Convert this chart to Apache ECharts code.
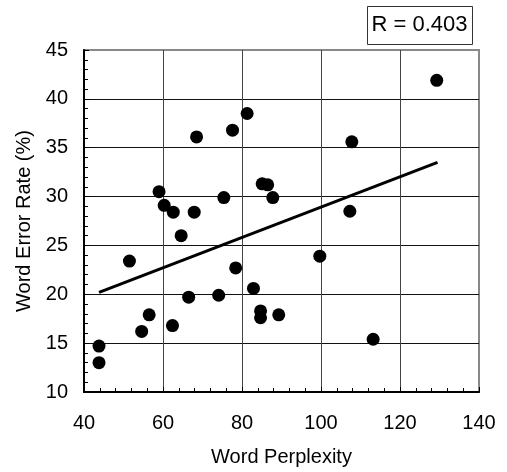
<!DOCTYPE html>
<html>
<head>
<meta charset="utf-8">
<script src="https://cdn.jsdelivr.net/npm/echarts@6/dist/echarts.min.js"></script>
<style>html,body{margin:0;padding:0;background:#fff}#c{width:507px;height:472px}</style>
</head>
<body>
<div id="c"></div>
<script>
var perplexity = [43.8, 43.8, 51.5, 54.6, 56.5, 59.0, 60.3, 62.6, 62.4, 64.6, 66.5, 67.9, 68.5, 74.1, 75.4, 77.6, 78.4, 81.3, 82.9, 84.7, 84.7, 85.1, 86.5, 87.8, 89.3, 99.7, 107.3, 107.8, 113.2, 129.3];
var errorRate = [14.7, 13.0, 23.4, 16.2, 17.9, 30.5, 29.1, 28.4, 16.8, 26.0, 19.7, 28.4, 36.1, 19.9, 29.9, 36.8, 22.7, 38.5, 20.6, 18.3, 17.6, 31.3, 31.2, 29.9, 17.9, 23.9, 28.5, 35.6, 15.4, 41.9];
var fitX = [43.8, 129.5];
var fitY = [20.2, 33.5];
var rLabel = 'R = 0.403';
var xTitle = 'Word Perplexity';
var yTitle = 'Word Error Rate (%)';

var font = 'Liberation Sans, Arial, sans-serif';
var chart = echarts.init(document.getElementById('c'), null, {renderer: 'canvas'});
chart.setOption({
  animation: false,
  backgroundColor: '#fff',
  grid: {left: 84, right: 28, top: 50, bottom: 79, show: true, borderColor: '#888', borderWidth: 2, backgroundColor: 'transparent'},
  xAxis: {
    type: 'value', min: 40, max: 140, interval: 20,
    name: xTitle, nameLocation: 'middle', nameGap: 55,
    nameTextStyle: {fontFamily: font, fontSize: 20, color: '#000'},
    axisLine: {show: true, onZero: false, lineStyle: {color: '#000', width: 2}},
    axisTick: {show: true, inside: true, length: 5, lineStyle: {color: '#000'}},
    minorTick: {show: true, splitNumber: 5, length: 4, lineStyle: {color: '#000'}},
    axisLabel: {fontFamily: font, fontSize: 20, color: '#000', margin: 21},
    splitLine: {show: true, showMinLine: false, showMaxLine: false, lineStyle: {color: '#444', width: 1}}
  },
  yAxis: {
    type: 'value', min: 10, max: 45, interval: 5,
    name: yTitle, nameLocation: 'middle', nameGap: 48,
    nameTextStyle: {fontFamily: font, fontSize: 20, color: '#000'},
    axisLine: {show: true, onZero: false, lineStyle: {color: '#000', width: 2}},
    axisTick: {show: true, inside: true, length: 5, lineStyle: {color: '#000'}},
    minorTick: {show: true, splitNumber: 5, length: 4, lineStyle: {color: '#000'}},
    axisLabel: {fontFamily: font, fontSize: 20, color: '#000', margin: 16},
    splitLine: {show: true, showMinLine: false, showMaxLine: false, lineStyle: {color: '#111', width: 1}}
  },
  series: [
    {
      type: 'line', data: fitX.map(function (x, i) { return [x, fitY[i]]; }),
      showSymbol: false, symbol: 'none', lineStyle: {color: '#000', width: 3}, z: 3
    },
    {
      type: 'scatter', data: perplexity.map(function (x, i) { return [x, errorRate[i]]; }),
      symbol: 'circle', symbolSize: 13, itemStyle: {color: '#000', opacity: 1}, z: 4
    }
  ],
  graphic: [
    {type: 'rect', left: 367, top: 6, shape: {width: 105, height: 38}, style: {fill: '#fff', stroke: '#333', lineWidth: 1}},
    {type: 'text', x: 419.5, y: 25, style: {text: rLabel, font: '22px ' + font, fill: '#000', align: 'center', verticalAlign: 'middle'}}
  ]
});
</script>
</body>
</html>
